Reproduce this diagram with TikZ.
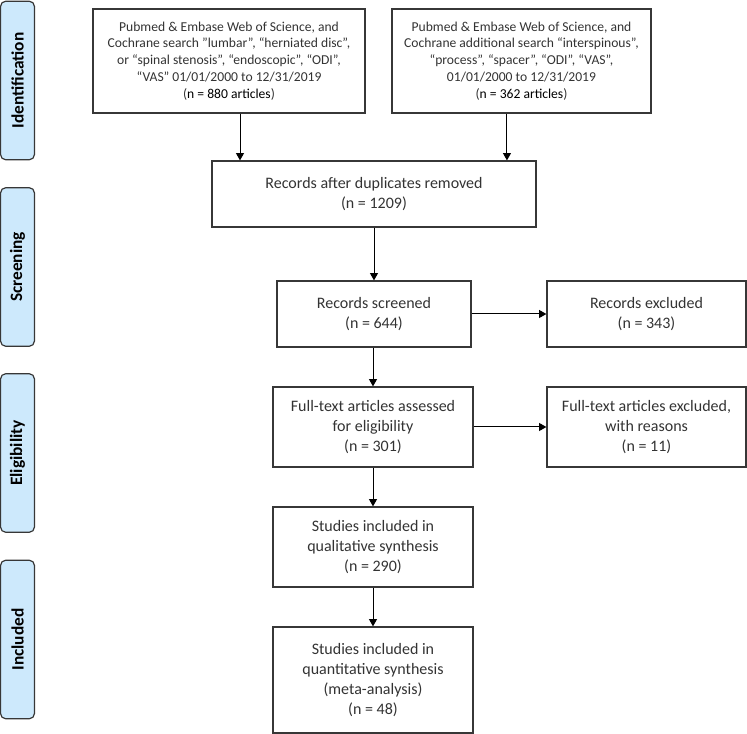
\documentclass[tikz,border=0pt]{standalone}
\usepackage{fontspec}
\setmainfont{Carlito}
\usetikzlibrary{arrows.meta}
\definecolor{tabblue}{RGB}{205,233,252}
\definecolor{boxline}{RGB}{55,55,55}

\begin{document}
\begin{tikzpicture}[x=0.75pt,y=-0.75pt,
  box/.style={draw=boxline,line width=0.9pt,align=center,inner sep=2pt,text=black!80,font=\fontsize{12}{15}\selectfont},
  topbox/.style={box,font=\fontsize{10.2}{12.6}\selectfont},
  phase/.style={draw=boxline,fill=tabblue,line width=0.9pt,rounded corners=4pt,rotate=90,minimum width=119pt,minimum height=25.5pt,font=\fontsize{13}{15}\selectfont\bfseries},
  arr/.style={-{Triangle[length=5.5pt,width=6pt]},line width=0.75pt}]
  \useasboundingbox (0,0) rectangle (747,734);

  % Phase tabs
  \node[phase] (idf) at (17.5,80.5) {Identification};
  \node[phase] (scn) at (17.5,267) {Screening};
  \node[phase] (elg) at (17.5,453) {Eligibility};
  \node[phase] (inc) at (17.5,639.5) {Included};

  % Search boxes
  \node[topbox,minimum width=204pt,minimum height=78pt] (srch1) at (229,61)
    {Pubmed \& Embase Web of Science, and\\
     Cochrane search ”lumbar”, “herniated disc”,\\
     or “spinal stenosis”, “endoscopic”, “ODI”,\\
     “VAS” 01/01/2000 to 12/31/2019\\
     (\textcolor{black}{n = 880 articles})};
  \node[topbox,minimum width=194.25pt,minimum height=78pt] (srch2) at (521.5,61)
    {Pubmed \& Embase Web of Science, and\\
     Cochrane additional search “interspinous”,\\
     “process”, “spacer”, “ODI”, “VAS”,\\
     01/01/2000 to 12/31/2019\\
     (\textcolor{black}{n = 362 articles})};

  % Main flow
  \node[box,minimum width=243pt,minimum height=49.5pt] (dup) at (374,194)
    {Records after duplicates removed\\(n = 1209)};
  \node[box,minimum width=145.5pt,minimum height=49.5pt] (scr) at (374,314)
    {Records screened\\(n = 644)};
  \node[box,minimum width=150pt,minimum height=60pt] (full) at (373,427)
    {Full-text articles assessed\\for eligibility\\(n = 301)};
  \node[box,minimum width=150pt,minimum height=60pt] (qual) at (373,547)
    {Studies included in\\qualitative synthesis\\(n = 290)};
  \node[box,minimum width=150pt,minimum height=79.5pt] (quant) at (373,680)
    {Studies included in\\quantitative synthesis\\(meta-analysis)\\(n = 48)};

  % Exclusions
  \node[box,minimum width=149.25pt,minimum height=49.5pt] (excl) at (646.5,314)
    {Records excluded\\(n = 343)};
  \node[box,minimum width=149.25pt,minimum height=60pt] (fexcl) at (646.5,427)
    {Full-text articles excluded,\\with reasons\\(n = 11)};

  % Arrows
  \draw[arr] ([xshift=8.25pt]srch1.south) -- ([xshift=8.25pt]srch1.south |- dup.north);
  \draw[arr] ([xshift=-10.9pt]srch2.south) -- ([xshift=-10.9pt]srch2.south |- dup.north);
  \draw[arr] (dup.south -| scr) -- (scr.north);
  \draw[arr] (scr.south -| full) -- (full.north);
  \draw[arr] (full.south) -- (qual.north);
  \draw[arr] (qual.south) -- (quant.north);
  \draw[arr] (scr.east) -- (excl.west |- scr.east);
  \draw[arr] (full.east) -- (fexcl.west);
\end{tikzpicture}
\end{document}
